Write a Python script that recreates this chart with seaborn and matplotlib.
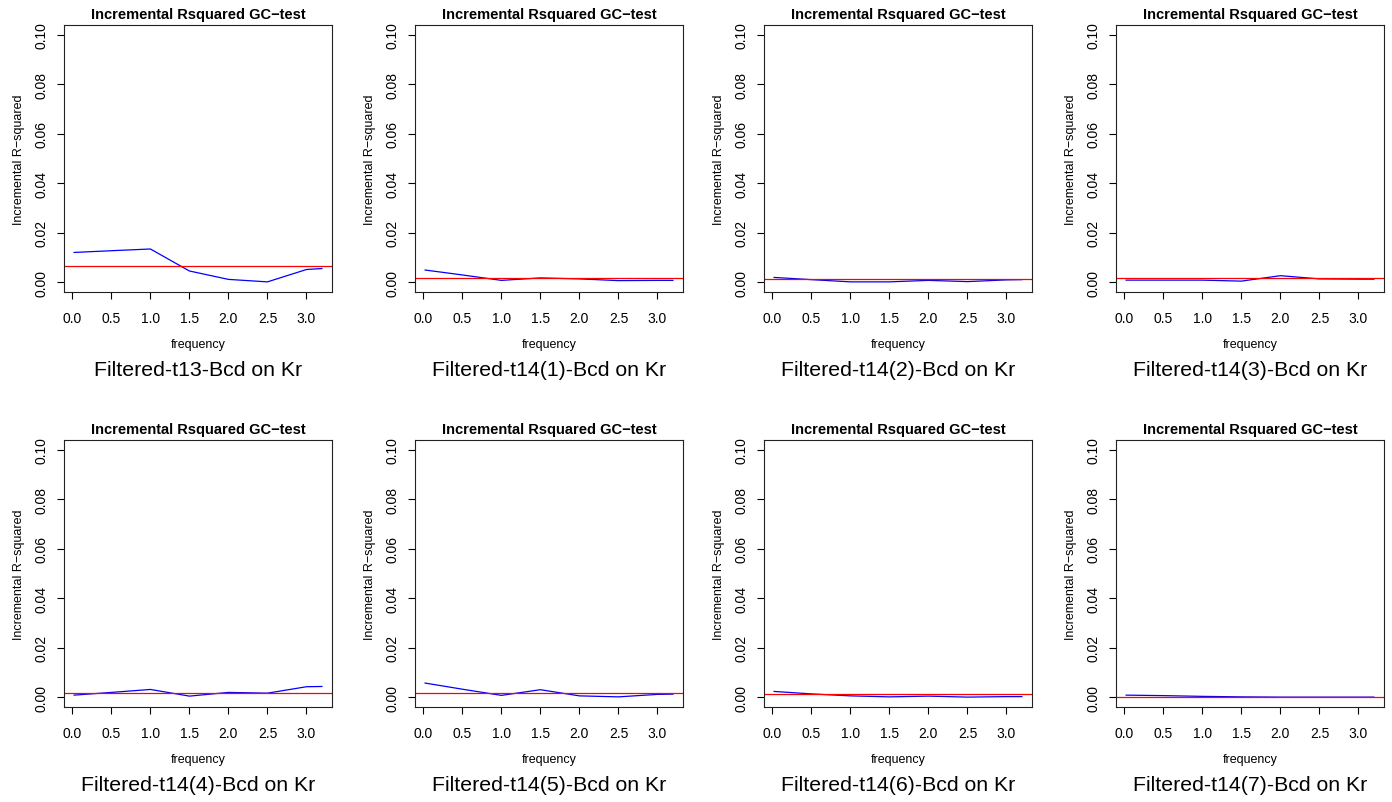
import numpy as np
import pandas as pd
import matplotlib
matplotlib.use("Agg")
import matplotlib.pyplot as plt
import seaborn as sns

sns.set_style("white")
plt.rcParams['font.family'] = ['Liberation Sans', 'DejaVu Sans']
plt.rcParams['text.color'] = 'black'
plt.rcParams['axes.labelcolor'] = 'black'
plt.rcParams['xtick.color'] = 'black'
plt.rcParams['ytick.color'] = 'black'

# frequency grid shared by every panel
freq = [0.02, 0.5, 1.0, 1.5, 2.0, 2.5, 3.0, 3.2]

# panel names
labels = ["Filtered-t13-Bcd on Kr", "Filtered-t14(1)-Bcd on Kr",
          "Filtered-t14(2)-Bcd on Kr", "Filtered-t14(3)-Bcd on Kr",
          "Filtered-t14(4)-Bcd on Kr", "Filtered-t14(5)-Bcd on Kr",
          "Filtered-t14(6)-Bcd on Kr", "Filtered-t14(7)-Bcd on Kr"]

# incremental R-squared per panel
r2_t13 = [0.0120, 0.0127, 0.0134, 0.0045, 0.0011, 0.0001, 0.0051, 0.0055]
r2_t14_1 = [0.0049, 0.0029, 0.0007, 0.0017, 0.0013, 0.0006, 0.0007, 0.0007]
r2_t14_2 = [0.0019, 0.0010, 0.0001, 0.0001, 0.0007, 0.0002, 0.0009, 0.0010]
r2_t14_3 = [0.0008, 0.0008, 0.0008, 0.0004, 0.0026, 0.0013, 0.0012, 0.0012]
r2_t14_4 = [0.0008, 0.0019, 0.0031, 0.0004, 0.0019, 0.0016, 0.0042, 0.0043]
r2_t14_5 = [0.0057, 0.0032, 0.0007, 0.0030, 0.0005, 0.0001, 0.0011, 0.0012]
r2_t14_6 = [0.0023, 0.0013, 0.0005, 0.0001, 0.0004, 0.0000, 0.0002, 0.0002]
r2_t14_7 = [0.0008, 0.0006, 0.0003, 0.0001, 0.0000, 0.0000, 0.0000, 0.0000]
series = [r2_t13, r2_t14_1, r2_t14_2, r2_t14_3,
          r2_t14_4, r2_t14_5, r2_t14_6, r2_t14_7]

# red threshold line per panel
thresholds = [0.0066, 0.0015, 0.0013, 0.0016, 0.0015, 0.0015, 0.0012, 0.0000]

fig = plt.figure(figsize=(13.92, 8.03), dpi=100)
W, H = 1392.0, 803.0
lefts = [64, 415, 764, 1116]
box_w = 268
box_h = 267
bottoms = [293, 708]

for i, (vals, thr, lab) in enumerate(zip(series, thresholds, labels)):
    row, col = divmod(i, 4)
    ax = fig.add_axes([lefts[col] / W, 1 - bottoms[row] / H, box_w / W, box_h / H])
    df = pd.DataFrame({"frequency": freq, "r2": vals})
    sns.lineplot(data=df, x="frequency", y="r2", color="blue", lw=0.9, ax=ax)
    ax.axhline(thr, color="red", lw=0.9)

    ax.set_xlim(-0.107, 3.327)
    ax.set_ylim(-0.004, 0.104)
    ax.set_xticks(np.arange(0, 3.01, 0.5))
    ax.set_xticklabels([f"{t:.1f}" for t in np.arange(0, 3.01, 0.5)])
    yt = np.arange(0, 0.101, 0.02)
    ax.set_yticks(yt)
    ax.set_yticklabels([f"{t:.2f}" for t in yt], rotation=90, va="center")
    ax.tick_params(axis="both", direction="out", length=5, width=0.8,
                   labelsize=10, color="black", bottom=True, left=True)
    ax.tick_params(axis="x", pad=9)
    ax.tick_params(axis="y", pad=6)
    for s in ax.spines.values():
        s.set_color("#222222")
        s.set_linewidth(0.8)

    ax.set_title("Incremental Rsquared GC\u2212test", fontsize=10.5,
                 fontweight="bold", pad=5)
    ax.set_xlabel("frequency", fontsize=9, labelpad=9)
    ax.set_ylabel("Incremental R\u2212squared", fontsize=9, labelpad=7)
    ax.annotate(lab, xy=(0.5, 0), xycoords="axes fraction",
                xytext=(0, -56), textcoords="offset points",
                ha="center", va="center", fontsize=15.3)

fig.savefig("out.png", dpi=100)
